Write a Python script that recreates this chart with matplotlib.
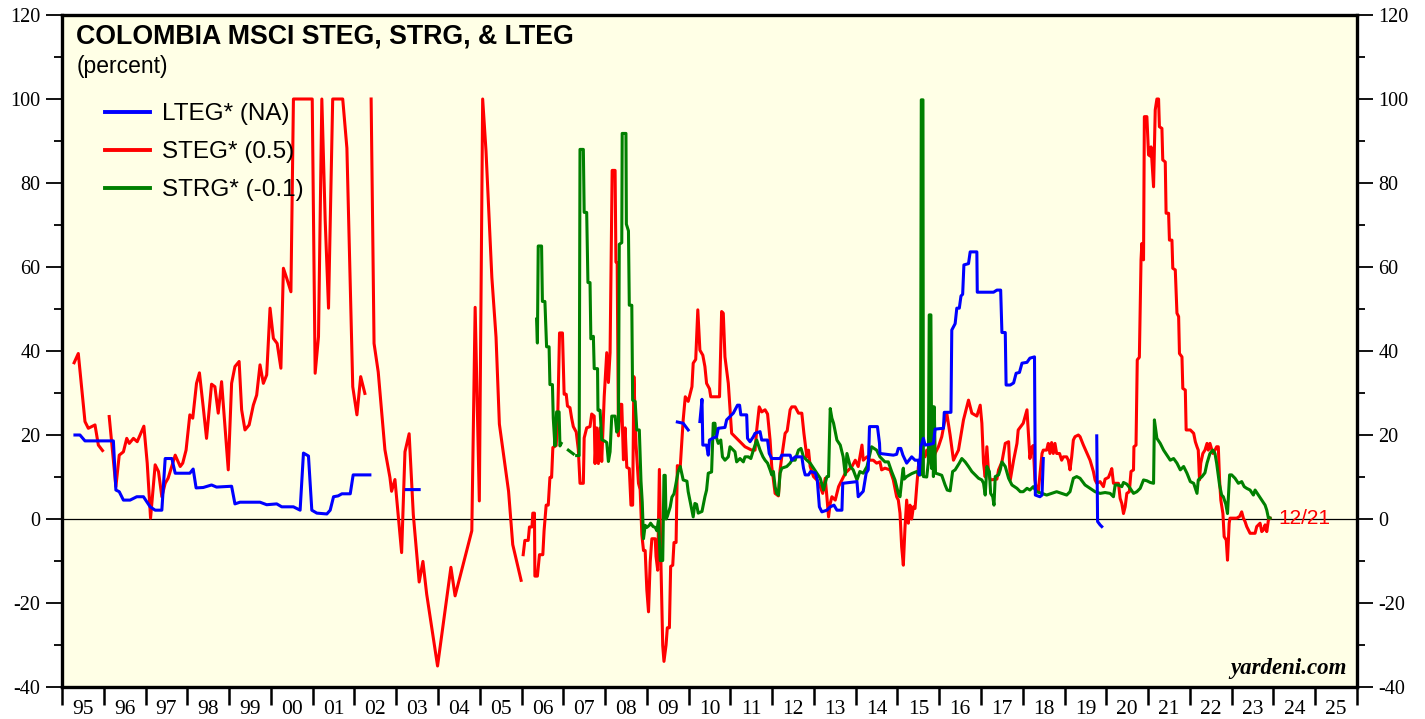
import numpy as np
import matplotlib
matplotlib.use("Agg")
import matplotlib.pyplot as plt

nan = np.nan

# LTEG* (blue): decimal year, percent (nan = gap)
LTEG_X = [1995.31, 1995.43, 1995.55, 1996.23, 1996.29, 1996.37, 1996.47, 1996.63, 1996.79, 1996.95,
          1997.11, 1997.23, 1997.39, 1997.47, 1997.63, 1997.71, 1998.06, 1998.14, 1998.21, 1998.38,
          1998.58, 1998.70, 1999.06, 1999.14, 1999.26, 1999.74, 1999.90, 2000.14, 2000.26, 2000.54,
          2000.70, 2000.78, 2000.90, 2000.98, 2001.10, 2001.34, 2001.42, 2001.50, 2001.61, 2001.70,
          2001.90, 2001.97, 2002.37, nan,
          2003.24, 2003.55, nan,
          2009.73, 2009.87, 2009.99, nan,
          2010.27, 2010.32, 2010.34, 2010.43, 2010.47, 2010.50, 2010.59, 2010.67, 2010.71, 2010.87,
          2010.91, 2010.99, 2011.07, 2011.17, 2011.22, 2011.25, 2011.39, 2011.41, 2011.47, 2011.55,
          2011.59, 2011.71, 2011.75, 2011.89, 2011.93, 2011.99, 2012.19, 2012.23, 2012.43, 2012.47,
          2012.55, 2012.71, 2012.75, 2012.79, 2012.87, 2012.92, 2013.03, 2013.08, 2013.13, 2013.19,
          2013.31, 2013.39, 2013.48, 2013.55, 2013.67, 2013.69, 2014.03, 2014.06, 2014.18, 2014.25,
          2014.30, 2014.33, 2014.52, 2014.57, 2014.58, 2014.74, 2014.90, 2014.98, 2015.02, 2015.08,
          2015.13, 2015.22, 2015.34, 2015.42, 2015.50, 2015.52, 2015.56, 2015.62, 2015.66, 2015.78,
          2015.86, 2015.90, 2016.10, 2016.12, 2016.28, 2016.30, 2016.38, 2016.42, 2016.48, 2016.52,
          2016.56, 2016.59, 2016.70, 2016.74, 2016.90, 2016.91, 2017.30, 2017.38, 2017.47, 2017.50,
          2017.58, 2017.60, 2017.70, 2017.78, 2017.84, 2017.92, 2017.98, 2018.10, 2018.17, 2018.28,
          2018.30, 2018.41, 2018.46, 2018.49, nan,
          2019.77, 2019.79, 2019.85, 2019.89]
LTEG_Y = [20.0, 20.0, 18.6, 18.6, 6.9, 6.5, 4.5, 4.5, 5.3, 5.3,
          2.9, 2.1, 2.1, 14.4, 14.4, 10.9, 10.9, 11.9, 7.4, 7.5,
          8.1, 7.6, 7.8, 3.6, 4.0, 4.0, 3.4, 3.6, 2.9, 2.9,
          2.1, 15.7, 15.0, 2.1, 1.4, 1.2, 2.1, 5.3, 5.5, 6.0,
          6.0, 10.5, 10.5, nan,
          7.0, 7.0, nan,
          23.1, 22.8, 21.2, nan,
          23.2, 28.5, 17.6, 17.6, 15.2, 18.8, 19.3, 19.6, 21.6, 21.8,
          23.6, 24.4, 25.2, 27.1, 27.1, 24.8, 24.8, 19.2, 18.4, 19.6,
          20.4, 20.8, 18.8, 18.8, 15.6, 14.4, 14.4, 15.2, 15.2, 14.0,
          14.8, 14.8, 12.1, 10.5, 10.5, 11.3, 11.0, 9.3, 2.9, 1.7,
          2.1, 2.9, 3.3, 2.1, 2.1, 8.5, 8.9, 5.3, 6.6, 10.9,
          11.7, 22.0, 22.0, 18.0, 15.6, 15.4, 15.2, 15.4, 16.8, 16.8,
          15.2, 13.3, 14.8, 14.0, 14.0, 10.5, 17.2, 19.2, 17.6, 17.8,
          18.0, 21.4, 21.6, 25.4, 25.4, 45.0, 46.5, 50.2, 50.2, 53.1,
          53.5, 60.5, 60.8, 63.6, 63.6, 54.0, 54.0, 54.5, 54.5, 44.4,
          44.4, 31.9, 31.9, 32.4, 34.7, 34.9, 37.1, 37.3, 38.3, 38.6,
          5.7, 5.3, 5.7, 14.4, nan,
          19.8, -0.6, -1.4, -1.8]

# STEG* (red)
STEG_X = [1995.29, 1995.39, 1995.55, 1995.63, 1995.79, 1995.87, 1995.97, nan,
          1996.13, 1996.29, 1996.37, 1996.47, 1996.55, 1996.61, 1996.71, 1996.80, 1996.96, 1997.04,
          1997.12, 1997.23, 1997.31, 1997.39, 1997.47, 1997.54, 1997.71, 1997.83, 1997.89, 1997.97,
          1998.06, 1998.13, 1998.22, 1998.29, 1998.38, 1998.46, 1998.58, 1998.66, 1998.74, 1998.82,
          1998.98, 1999.06, 1999.14, 1999.24, 1999.30, 1999.38, 1999.48, 1999.58, 1999.66, 1999.74,
          1999.82, 1999.90, 1999.98, 2000.06, 2000.15, 2000.24, 2000.30, 2000.38, 2000.48, 2000.54,
          2000.99, 2001.06, 2001.14, 2001.22, 2001.30, 2001.38, 2001.48, 2001.72, 2001.82, 2001.96,
          2002.06, 2002.15, 2002.25, nan,
          2002.40, 2002.47, 2002.57, 2002.73, 2002.85, 2002.89, 2002.97, 2003.13, 2003.21, 2003.31,
          2003.41, 2003.55, 2003.64, 2003.73, 2003.99, 2004.31, 2004.41, 2004.81, 2004.89, 2004.99,
          2005.07, 2005.15, 2005.29, 2005.39, 2005.47, 2005.61, 2005.69, 2005.79, 2005.89, 2005.99, nan,
          2006.04, 2006.08, 2006.16, 2006.19, 2006.25, 2006.27, 2006.31, 2006.32, 2006.38, 2006.43,
          2006.51, 2006.54, 2006.59, 2006.64, 2006.68, 2006.72, 2006.75, 2006.83, 2006.87, 2006.91,
          2006.98, 2007.02, 2007.07, 2007.10, 2007.16, 2007.20, 2007.24, 2007.31, 2007.36, 2007.40,
          2007.48, 2007.50, 2007.56, 2007.64, 2007.68, 2007.74, 2007.76, 2007.80, 2007.84, 2007.88,
          2007.92, 2007.98, 2008.04, 2008.08, 2008.12, 2008.17, 2008.24, 2008.26, 2008.29, 2008.32,
          2008.36, 2008.40, 2008.44, 2008.48, 2008.52, 2008.58, 2008.62, 2008.66, 2008.69, 2008.74,
          2008.80, 2008.84, 2008.88, 2008.92, 2008.96, 2009.00, 2009.04, 2009.08, 2009.12, 2009.20,
          2009.22, 2009.26, 2009.30, 2009.34, 2009.38, 2009.41, 2009.46, 2009.49, 2009.54, 2009.57,
          2009.62, 2009.65, 2009.70, 2009.73, 2009.80, 2009.87, 2009.92, 2009.99, 2010.08, 2010.11,
          2010.17, 2010.22, 2010.27, 2010.34, 2010.39, 2010.43, 2010.50, 2010.53, 2010.74, 2010.79,
          2010.83, 2010.87, 2010.95, 2011.03, 2011.19, 2011.35, 2011.51, 2011.59, 2011.63, 2011.69,
          2011.75, 2011.83, 2011.89, 2011.95, 2011.99, 2012.07, 2012.15, 2012.19, 2012.23, 2012.31,
          2012.36, 2012.43, 2012.47, 2012.55, 2012.63, 2012.71, 2012.76, 2012.83, 2012.87, 2012.91,
          2012.99, 2013.07, 2013.15, 2013.21, 2013.27, 2013.31, 2013.35, 2013.39, 2013.43, 2013.51,
          2013.59, 2013.67, 2013.75, 2013.83, 2013.91, 2013.99, 2014.06, 2014.15, 2014.18, 2014.27,
          2014.34, 2014.42, 2014.50, 2014.58, 2014.62, 2014.70, 2014.82, 2014.90, 2014.98, 2015.02,
          2015.06, 2015.10, 2015.14, 2015.18, 2015.22, 2015.26, 2015.30, 2015.34, 2015.38, 2015.42,
          2015.46, 2015.50, 2015.58, 2015.66, 2015.70, 2015.82, 2015.90, 2015.98, 2016.06, 2016.12,
          2016.18, 2016.26, 2016.34, 2016.46, 2016.54, 2016.58, 2016.66, 2016.70, 2016.78, 2016.90,
          2016.98, 2017.02, 2017.06, 2017.10, 2017.14, 2017.18, 2017.22, 2017.38, 2017.42, 2017.50,
          2017.58, 2017.66, 2017.70, 2017.78, 2017.86, 2017.89, 2018.01, 2018.10, 2018.13, 2018.17,
          2018.21, 2018.25, 2018.29, 2018.33, 2018.37, 2018.46, 2018.49, 2018.57, 2018.61, 2018.65,
          2018.69, 2018.73, 2018.77, 2018.81, 2018.88, 2018.93, 2018.97, 2019.05, 2019.09, 2019.13,
          2019.17, 2019.21, 2019.25, 2019.33, 2019.37, 2019.45, 2019.53, 2019.61, 2019.69, 2019.73,
          2019.77, 2019.85, 2019.93, 2019.97, 2020.05, 2020.09, 2020.13, 2020.17, 2020.21, 2020.29,
          2020.33, 2020.37, 2020.41, 2020.45, 2020.49, 2020.55, 2020.59, 2020.65, 2020.66, 2020.71,
          2020.74, 2020.79, 2020.83, 2020.85, 2020.89, 2020.91, 2020.97, 2021.01, 2021.05, 2021.07,
          2021.13, 2021.17, 2021.21, 2021.25, 2021.27, 2021.33, 2021.35, 2021.41, 2021.43, 2021.49,
          2021.51, 2021.57, 2021.59, 2021.65, 2021.69, 2021.73, 2021.75, 2021.81, 2021.83, 2021.89,
          2021.91, 2022.01, 2022.09, 2022.13, 2022.17, 2022.20, 2022.23, 2022.26, 2022.31, 2022.36,
          2022.41, 2022.44, 2022.48, 2022.55, 2022.60, 2022.64, 2022.68, 2022.71, 2022.74, 2022.79,
          2022.82, 2022.87, 2022.90, 2022.94, 2022.96, 2023.12, 2023.19, 2023.24, 2023.28, 2023.32,
          2023.36, 2023.44, 2023.56, 2023.60, 2023.68, 2023.72, 2023.76, 2023.80, 2023.84, 2023.88,
          2023.92]
STEG_Y = [37.2, 39.4, 23.2, 21.6, 22.4, 17.6, 16.3, nan,
          24.4, 7.7, 15.2, 16.0, 19.2, 18.0, 19.2, 18.4, 22.1, 13.3,
          0.2, 12.9, 11.3, 5.3, 8.5, 9.7, 15.2, 12.5, 13.3, 16.4,
          24.8, 24.0, 32.3, 34.8, 26.7, 19.2, 32.1, 31.5, 25.2, 32.7,
          11.7, 32.3, 36.3, 37.5, 26.0, 21.2, 22.4, 27.1, 29.5, 36.7,
          32.3, 34.3, 50.2, 43.0, 41.8, 35.9, 59.7, 57.3, 54.1, 100.0,
          100.0, 34.7, 43.4, 100.0, 71.2, 50.2, 100.0, 100.0, 88.3, 31.5,
          24.8, 33.9, 29.9, nan,
          100.0, 41.8, 35.0, 16.5, 9.9, 6.6, 9.4, -8.0, 16.0, 20.3,
          1.0, -15.0, -10.1, -17.9, -35.0, -11.5, -18.3, -2.8, 50.4, 4.3,
          100.0, 87.6, 57.5, 43.3, 22.6, 12.3, 6.6, -6.1, -10.3, -14.6, nan,
          -8.5, -5.1, -5.1, -1.9, -1.9, 1.4, 1.4, -13.6, -13.6, -8.5,
          -8.5, -2.8, 3.3, 3.3, 9.9, 9.9, 17.0, 17.5, 25.5, 44.3,
          44.3, 29.7, 29.7, 26.9, 26.5, 24.0, 22.0, 20.7, 16.5, 8.5,
          8.5, 19.3, 21.7, 22.0, 25.0, 24.5, 13.2, 21.7, 13.2, 21.7,
          13.7, 29.2, 39.6, 32.5, 39.6, 83.0, 83.0, 61.2, 61.0, 19.8,
          27.3, 27.3, 14.1, 21.7, 12.3, 12.0, 3.3, 3.3, 33.9, 17.9,
          8.5, 7.0, -3.7, -7.5, -7.5, -16.9, -22.1, -10.3, -4.7, -4.7,
          -8.9, -12.2, 11.8, -11.7, -30.1, -33.9, -30.0, -25.9, -25.9, -11.3,
          -11.0, -5.6, -5.6, 12.7, 12.5, 23.6, 29.1, 28.0, 31.5, 37.1,
          38.0, 49.8, 40.2, 39.0, 36.3, 32.3, 31.0, 29.1, 29.1, 49.4,
          49.0, 38.6, 32.3, 20.4, 18.8, 17.2, 16.4, 16.4, 21.2, 26.7,
          25.5, 26.0, 25.0, 18.8, 12.5, 6.1, 5.5, 11.7, 14.8, 20.4,
          21.0, 26.0, 26.7, 26.7, 25.2, 25.2, 20.4, 14.8, 16.4, 12.5,
          10.1, 9.3, 7.7, 6.1, 9.7, 5.3, 0.5, 3.7, 5.3, 4.5,
          7.7, 9.3, 10.9, 11.7, 12.5, 14.0, 12.5, 17.6, 14.0, 14.8,
          14.0, 14.0, 13.3, 13.6, 11.7, 12.1, 11.7, 9.3, 5.3, 4.5,
          1.4, -6.6, -11.0, -2.0, 4.5, -1.0, 3.3, 0.0, 2.9, 2.5,
          7.7, 12.5, 15.6, 14.8, 16.4, 12.5, 15.6, 17.2, 19.6, 22.8,
          25.2, 20.0, 14.0, 16.4, 21.2, 23.6, 26.7, 28.3, 25.2, 24.5,
          27.1, 22.8, 13.3, 10.0, 17.2, 11.0, 9.3, 9.5, 11.7, 13.6,
          18.0, 18.4, 9.3, 14.0, 18.0, 21.2, 22.8, 26.0, 21.0, 14.4,
          17.0, 17.5, 9.3, 6.9, 6.5, 15.6, 16.4, 16.4, 18.0, 15.6,
          18.2, 15.6, 18.0, 15.6, 15.6, 14.0, 14.8, 14.8, 14.0, 11.7,
          14.8, 18.8, 19.6, 20.0, 19.6, 17.6, 15.8, 14.0, 11.3, 9.3,
          8.5, 8.9, 7.7, 9.5, 9.9, 10.9, 12.0, 8.5, 8.5, 8.5,
          4.9, 3.7, 1.3, 2.9, 6.1, 6.5, 11.3, 11.7, 17.2, 17.6,
          37.9, 38.5, 61.7, 65.6, 61.7, 95.8, 95.8, 86.7, 86.4, 88.6,
          79.1, 97.4, 100.0, 100.0, 93.4, 93.0, 85.5, 85.0, 72.8, 72.8,
          66.4, 66.4, 59.7, 59.3, 49.0, 48.2, 39.4, 38.6, 31.1, 30.7,
          21.2, 21.2, 20.4, 18.4, 17.2, 16.4, 9.3, 13.3, 15.6, 16.4,
          18.0, 16.4, 18.0, 15.6, 16.4, 17.2, 17.2, 9.3, 4.5, 1.3,
          -4.2, -5.0, -9.8, -1.0, 0.2, 0.2, 0.6, 1.7, 0.2, -0.6,
          -1.8, -3.4, -3.4, -1.8, -1.0, -3.0, -2.6, -1.4, -3.0, -0.2,
          0.2]

# STRG* (green)
STRG_X = [2006.36, 2006.38, 2006.40, 2006.48, 2006.50, 2006.56, 2006.60, 2006.66, 2006.68, 2006.74,
          2006.76, 2006.80, 2006.84, 2006.90, 2006.92, 2006.95, nan,
          2007.12, 2007.24, nan,
          2007.32, 2007.38, 2007.40, 2007.48, 2007.50, 2007.56, 2007.59, 2007.64, 2007.66, 2007.72,
          2007.74, 2007.82, 2007.83, 2007.88, 2007.92, 2008.00, 2008.04, 2008.08, 2008.12, 2008.16,
          2008.24, 2008.28, 2008.32, 2008.34, 2008.40, 2008.41, 2008.50, 2008.51, 2008.56, 2008.58,
          2008.64, 2008.66, 2008.72, 2008.76, 2008.82, 2008.86, 2008.89, 2008.92, 2008.96, 2009.00,
          2009.06, 2009.09, 2009.15, 2009.20, 2009.24, 2009.28, 2009.32, 2009.38, 2009.41, 2009.44,
          2009.46, 2009.49, 2009.56, 2009.60, 2009.65, 2009.68, 2009.75, 2009.80, 2009.87, 2009.96,
          2009.99, 2010.03, 2010.08, 2010.11, 2010.15, 2010.19, 2010.23, 2010.32, 2010.39, 2010.43,
          2010.47, 2010.55, 2010.59, 2010.63, 2010.66, 2010.71, 2010.77, 2010.81, 2010.87, 2010.95,
          2010.99, 2011.07, 2011.11, 2011.15, 2011.23, 2011.31, 2011.35, 2011.43, 2011.49, 2011.55,
          2011.63, 2011.71, 2011.78, 2011.83, 2011.89, 2011.95, 2011.99, 2012.03, 2012.07, 2012.11,
          2012.15, 2012.19, 2012.23, 2012.35, 2012.43, 2012.47, 2012.55, 2012.63, 2012.69, 2012.75,
          2012.83, 2012.91, 2012.99, 2013.07, 2013.15, 2013.23, 2013.31, 2013.35, 2013.39, 2013.43,
          2013.47, 2013.55, 2013.63, 2013.70, 2013.75, 2013.79, 2013.87, 2013.94, 2014.03, 2014.10,
          2014.18, 2014.27, 2014.38, 2014.50, 2014.58, 2014.70, 2014.78, 2014.86, 2014.94, 2015.02,
          2015.06, 2015.13, 2015.14, 2015.16, 2015.22, 2015.34, 2015.46, 2015.52, 2015.55, 2015.57,
          2015.61, 2015.62, 2015.70, 2015.74, 2015.76, 2015.80, 2015.82, 2015.85, 2015.86, 2015.88,
          2015.91, 2015.98, 2016.06, 2016.14, 2016.19, 2016.26, 2016.32, 2016.38, 2016.43, 2016.48,
          2016.54, 2016.62, 2016.70, 2016.78, 2016.86, 2016.94, 2017.02, 2017.06, 2017.10, 2017.14,
          2017.20, 2017.23, 2017.28, 2017.31, 2017.34, 2017.42, 2017.46, 2017.50, 2017.58, 2017.66,
          2017.74, 2017.86, 2017.94, 2018.01, 2018.10, 2018.17, 2018.25, 2018.33, 2018.46, 2018.57,
          2018.69, 2018.81, 2018.93, 2019.05, 2019.13, 2019.21, 2019.29, 2019.37, 2019.49, 2019.61,
          2019.73, 2019.85, 2019.97, 2020.09, 2020.17, 2020.21, 2020.29, 2020.37, 2020.41, 2020.49,
          2020.57, 2020.65, 2020.73, 2020.81, 2020.89, 2020.97, 2021.05, 2021.13, 2021.15, 2021.21,
          2021.29, 2021.37, 2021.45, 2021.53, 2021.61, 2021.69, 2021.77, 2021.85, 2021.93, 2022.01,
          2022.09, 2022.17, 2022.20, 2022.29, 2022.36, 2022.41, 2022.48, 2022.55, 2022.60, 2022.64,
          2022.71, 2022.76, 2022.80, 2022.86, 2022.90, 2022.95, 2023.00, 2023.08, 2023.16, 2023.24,
          2023.30, 2023.36, 2023.44, 2023.52, 2023.56, 2023.64, 2023.72, 2023.80, 2023.84, 2023.88,
          2023.92]
STRG_Y = [47.6, 41.9, 65.0, 65.0, 51.8, 51.8, 41.0, 41.0, 32.0, 32.0,
          24.0, 17.4, 25.5, 25.5, 17.4, 18.0, nan,
          16.4, 15.5, nan,
          15.1, 15.1, 88.0, 88.0, 73.0, 73.0, 56.3, 56.3, 42.9, 43.5,
          35.8, 35.8, 25.9, 25.9, 18.9, 18.5, 18.2, 13.7, 16.0, 24.5,
          24.5, 20.7, 21.5, 65.4, 65.8, 91.8, 91.8, 70.2, 68.6, 50.9,
          50.9, 28.3, 28.0, 21.2, 21.2, 9.0, 4.0, -4.7, -1.5, -2.0,
          -1.5, -1.0, -1.8, -2.0, -2.8, -0.2, -9.9, -9.9, 10.4, 10.4,
          0.0, 0.6, 2.9, 5.2, 6.0, 7.5, 11.3, 12.5, 9.3, 9.0,
          6.5, 4.5, 2.1, 0.5, 3.7, 3.5, 1.4, 1.8, 5.3, 6.9,
          10.9, 11.2, 22.8, 22.8, 19.6, 18.0, 18.8, 14.8, 14.0, 14.8,
          17.2, 16.4, 16.0, 13.6, 14.4, 13.6, 14.8, 14.8, 14.4, 16.4,
          18.8, 16.4, 14.8, 14.0, 13.3, 11.7, 10.5, 11.3, 7.7, 6.1,
          5.7, 10.9, 12.1, 12.5, 13.3, 14.0, 14.0, 16.4, 16.8, 14.8,
          14.0, 13.3, 12.1, 10.9, 9.7, 6.9, 10.1, 10.1, 26.3, 24.0,
          22.8, 18.8, 17.6, 14.8, 10.5, 15.6, 12.5, 11.7, 9.3, 11.3,
          10.9, 12.5, 17.2, 16.4, 14.8, 13.6, 13.6, 11.3, 9.3, 6.1,
          5.3, 11.7, 12.1, 9.5, 10.1, 10.8, 11.3, 10.5, 10.5, 99.8,
          99.8, 10.1, 10.0, 13.6, 48.6, 48.6, 12.0, 26.7, 10.1, 26.7,
          10.9, 10.7, 10.4, 8.1, 6.9, 6.7, 11.3, 11.7, 12.5, 13.3,
          14.4, 13.6, 12.5, 11.3, 10.5, 9.7, 9.3, 8.5, 5.7, 12.5,
          11.3, 6.1, 5.3, 3.3, 10.1, 10.5, 11.7, 13.6, 12.5, 9.7,
          8.1, 7.3, 6.5, 6.5, 7.3, 6.9, 7.7, 6.5, 6.1, 5.7,
          6.1, 6.5, 6.1, 5.7, 6.5, 9.7, 10.1, 9.7, 8.1, 7.3,
          6.5, 6.1, 6.3, 6.1, 5.3, 8.1, 8.1, 7.7, 8.7, 8.3,
          7.3, 6.1, 6.5, 7.3, 9.3, 9.1, 8.7, 8.5, 23.6, 19.2,
          18.0, 16.4, 15.2, 14.0, 14.4, 13.3, 11.7, 12.5, 10.9, 8.9,
          8.5, 6.1, 9.3, 10.1, 11.0, 13.3, 15.6, 16.4, 15.6, 13.3,
          8.1, 5.7, 5.3, 3.5, 1.3, 10.5, 10.5, 9.7, 8.5, 8.9,
          7.7, 7.3, 6.9, 5.7, 6.9, 5.7, 4.5, 3.3, 2.1, 0.2,
          0.2]

YEARS = list(range(1995, 2026))
YEAR_LABELS = [f"{y % 100:02d}" for y in YEARS]
Y_TICKS = list(range(-40, 121, 20))
LEGEND_LABELS = ["LTEG* (NA)", "STEG* (0.5)", "STRG* (-0.1)"]

SERIF = ["Liberation Serif", "DejaVu Serif"]
SANS = ["Liberation Sans", "DejaVu Sans"]
plt.rcParams["axes.unicode_minus"] = False

fig = plt.figure(figsize=(14.25, 7.19), dpi=100)
ax = fig.add_axes([62 / 1425, 1 - 687 / 719, (1357 - 62) / 1425, (687 - 15) / 719])
ax.set_facecolor("#FFFFE6")

ax.axhline(0, color="black", lw=0.9, zorder=1)
l_red, = ax.plot(STEG_X, STEG_Y, color="#FF0000", lw=2.2, zorder=2)
l_grn, = ax.plot(STRG_X, STRG_Y, color="#008000", lw=2.2, zorder=3)
l_blu, = ax.plot(LTEG_X, LTEG_Y, color="#0000FF", lw=2.2, zorder=4)

ax.set_xlim(1995, 2026)
ax.set_ylim(-40, 120)

for s in ax.spines.values():
    s.set_linewidth(2.4)

# x: tick marks at year boundaries, labels centred in each year
ax.set_xticks(YEARS + [2026])
ax.set_xticklabels([])
ax.set_xticks([y + 0.5 for y in YEARS], minor=True)
ax.set_xticklabels(YEAR_LABELS, minor=True, family=SERIF, fontsize=15.5)
ax.tick_params(axis="x", which="major", direction="out", length=13, width=1.8)
ax.tick_params(axis="x", which="minor", length=0, pad=9)

# y: both sides
ax.set_yticks(Y_TICKS)
ax.set_yticks(range(-30, 120, 20), minor=True)
ax.tick_params(axis="y", which="major", direction="out", length=11.5, width=1.3,
               left=True, right=True, labelleft=True, labelright=True, pad=4)
ax.tick_params(axis="y", which="minor", direction="out", length=5.5, width=1.3,
               left=True, right=True)
for lab in ax.get_yticklabels():
    lab.set_family(SERIF)
    lab.set_fontsize(14.5)

ax.text(0.011, 0.968, "COLOMBIA MSCI STEG, STRG, & LTEG", transform=ax.transAxes,
        family=SANS, fontsize=19.3, fontweight="bold", va="center", ha="left")
ax.text(0.011, 0.923, "(percent)", transform=ax.transAxes,
        family=SANS, fontsize=16.5, va="center", ha="left")

leg = ax.legend([l_blu, l_red, l_grn], LEGEND_LABELS, loc="upper left",
                bbox_to_anchor=(0.0332, 0.869), frameon=False, borderaxespad=0,
                borderpad=0, handlelength=1.85, handletextpad=0.5, labelspacing=0.66,
                prop={"family": SANS, "size": 17.5})
for h in leg.get_lines():
    h.set_linewidth(2.8)

ax.text(STEG_X[-1] + 0.2, STEG_Y[-1], "12/21", color="#FF0000", family=SANS,
        fontsize=15, va="center", ha="left", zorder=5)
ax.text(0.992, 0.012, "yardeni.com", transform=ax.transAxes, family=SERIF,
        fontsize=16.5, fontweight="bold", fontstyle="italic", ha="right", va="bottom")

fig.savefig("out.png", dpi=100)
